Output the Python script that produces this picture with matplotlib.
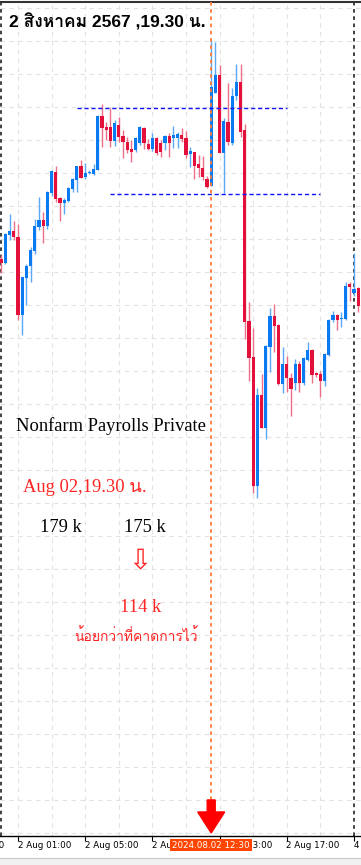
import matplotlib
matplotlib.use("Agg")
import matplotlib.pyplot as plt
from matplotlib import font_manager
from matplotlib.ft2font import FT2Font
from matplotlib.patches import Polygon, Rectangle
from matplotlib.transforms import blended_transform_factory
import numpy as np

# M15 candles, 2 Aug 2024 00:00 (server GMT) onwards
opens = [148.41, 148.37, 148.65, 148.69, 148.63, 147.85, 148.22, 148.34, 148.49, 148.73,
         148.80, 148.74, 149.07, 149.28, 149.02, 148.97, 148.99, 149.11, 149.20, 149.34,
         149.23, 149.27, 149.26, 149.30, 149.84, 149.73, 149.73, 149.59, 149.75, 149.64,
         149.58, 149.51, 149.50, 149.57, 149.72, 149.56, 149.51, 149.62, 149.57, 149.57,
         149.64, 149.62, 149.62, 149.65, 149.62, 149.46, 149.48, 149.36, 149.32, 149.21,
         149.14, 150.07, 150.25, 149.47, 149.78, 149.57, 150.04, 150.18, 149.70, 147.79,
         147.43, 146.14, 147.05, 146.72, 147.53, 147.84, 147.75, 147.16, 147.36, 147.22,
         147.17, 147.36, 147.17, 147.40, 147.50, 147.27, 147.26, 147.19, 147.45, 147.80,
         147.85, 147.81, 147.81, 148.16, 148.07, 148.12]
highs = [148.45, 148.67, 148.86, 148.79, 148.76, 148.23, 148.36, 148.53, 148.81, 149.03,
         148.88, 149.09, 149.30, 149.34, 149.03, 149.02, 149.13, 149.22, 149.34, 149.40,
         149.37, 149.30, 149.36, 149.85, 149.96, 149.78, 149.92, 149.80, 149.83, 149.70,
         149.63, 149.60, 149.63, 149.74, 149.73, 149.61, 149.67, 149.63, 149.60, 149.65,
         149.67, 149.74, 149.68, 149.72, 149.69, 149.53, 149.48, 149.45, 149.44, 149.24,
         150.60, 150.58, 150.35, 149.82, 150.17, 150.12, 150.36, 150.36, 149.76, 147.98,
         147.72, 147.12, 147.26, 147.55, 147.92, 147.96, 147.76, 147.53, 147.44, 147.27,
         147.41, 147.39, 147.43, 147.58, 147.51, 147.28, 147.29, 147.47, 147.81, 147.89,
         147.86, 147.88, 148.18, 148.18, 148.47, 148.13]
lows = [148.27, 148.36, 148.60, 148.60, 147.80, 147.65, 147.95, 148.18, 148.46, 148.70,
        148.57, 148.71, 149.04, 148.98, 148.79, 148.86, 148.98, 149.08, 149.08, 149.22,
        149.21, 149.26, 149.25, 149.30, 149.53, 149.60, 149.53, 149.54, 149.58, 149.42,
        149.47, 149.38, 149.48, 149.55, 149.51, 149.50, 149.49, 149.45, 149.43, 149.50,
        149.43, 149.52, 149.52, 149.58, 149.42, 149.33, 149.21, 149.23, 149.20, 149.12,
        149.14, 150.07, 149.47, 149.07, 149.55, 149.55, 150.00, 149.63, 147.61, 147.19,
        146.07, 146.02, 146.72, 146.61, 147.28, 147.48, 147.15, 147.07, 147.08, 146.84,
        147.10, 147.08, 147.15, 147.39, 147.17, 147.23, 147.03, 147.14, 147.44, 147.78,
        147.70, 147.73, 147.80, 147.99, 148.04, 147.88]
closes = [148.37, 148.66, 148.69, 148.63, 147.85, 148.23, 148.34, 148.50, 148.74, 148.80,
          148.74, 149.08, 149.29, 149.01, 148.97, 149.00, 149.12, 149.21, 149.34, 149.22,
          149.27, 149.28, 149.31, 149.84, 149.72, 149.70, 149.59, 149.77, 149.63, 149.58,
          149.50, 149.48, 149.62, 149.73, 149.57, 149.51, 149.62, 149.47, 149.48, 149.64,
          149.57, 149.65, 149.66, 149.61, 149.45, 149.49, 149.34, 149.32, 149.23, 149.13,
          150.13, 150.25, 149.47, 149.79, 149.58, 150.04, 150.18, 149.68, 147.78, 147.42,
          146.14, 147.05, 146.72, 147.54, 147.84, 147.74, 147.16, 147.36, 147.22, 147.11,
          147.36, 147.17, 147.42, 147.50, 147.25, 147.25, 147.19, 147.46, 147.80, 147.85,
          147.80, 147.82, 148.14, 148.13, 148.11, 147.94]

tick_idx = [-12, 4, 20, 36, 52, 68, 84]
tick_labels = ["1 Aug 21:00", "2 Aug 01:00", "2 Aug 05:00", "2 Aug 09:00",
               "2 Aug 13:00", "2 Aug 17:00", "4 Aug 21:00"]
event_idx = 50
event_label = "2024.08.02 12:30"
separators = [0, 84]
level_hi, level_hi_from, level_hi_to = 149.92, 18, 68
level_lo, level_lo_from, level_lo_to = 149.06, 26, 76


def thai_fonts():
    found = []
    for f in font_manager.fontManager.ttflist:
        if f.name in found:
            continue
        try:
            cmap = FT2Font(f.fname).get_charmap()
        except Exception:
            continue
        if 0x0E2A in cmap:
            found.append(f.name)
    return found


thai = thai_fonts()
sans = ["Liberation Sans"] + thai
serif = ["Liberation Serif"] + thai

W, H = 361, 865
fig = plt.figure(figsize=(W / 100, H / 100), dpi=100)
ax = fig.add_axes([0, (H - 836) / H, 1, (836 - 1.5) / H])
ax.set_xlim(-1.2 / 4.2, (W - 1.2) / 4.2)
ax.set_ylim(151 - 836 / 100, 151 - 1.5 / 100)

# grid
for gy in np.arange(150.92, 142.6, -0.33):
    ax.axhline(gy, color="#e2e2e2", lw=0.8, ls=(0, (4, 4)), zorder=0)
for gx in range(4, 84, 8):
    ax.axvline(gx, color="#e2e2e2", lw=0.8, ls=(0, (4, 4)), zorder=0)
for sx in separators:
    ax.axvline(sx, color="#333333", lw=1.3, ls=(0, (2, 2)), zorder=1)

# candles
up_body, up_wick = "#0a7af2", "#5aa8f6"
dn_body, dn_wick = "#e4103c", "#ec6f87"
idx = np.arange(len(opens))
for i, o, h, l, c in zip(idx, opens, highs, lows, closes):
    up = c >= o
    ax.plot([i, i], [l, h], color=up_wick if up else dn_wick, lw=1.0, zorder=2,
            solid_capstyle="butt")
    lo, hi = min(o, c), max(o, c)
    if hi - lo < 0.01:
        hi = lo + 0.01
    ax.bar(i, hi - lo, bottom=lo, width=0.75, color=up_body if up else dn_body,
           linewidth=0, zorder=3)

# levels
ax.hlines(level_hi, level_hi_from, level_hi_to, color="#1010ff", lw=1.0,
          ls=(0, (3, 2)), zorder=4)
ax.hlines(level_lo, level_lo_from, level_lo_to, color="#1010ff", lw=1.0,
          ls=(0, (3, 2)), zorder=4)

# event line + arrow
ax.axvline(event_idx, ymin=0.043, ymax=1, color="#ff7a3a", lw=1.3,
           ls=(0, (2, 2)), zorder=4)
bt = blended_transform_factory(ax.transData, ax.transAxes)
sw, hw = 4 / 4.2, 13.5 / 4.2
arrow = Polygon([(event_idx - sw, 0.0432), (event_idx + sw, 0.0432),
                 (event_idx + sw, 0.0288), (event_idx + hw, 0.0288),
                 (event_idx, 0.0036), (event_idx - hw, 0.0288),
                 (event_idx - sw, 0.0288)],
                closed=True, transform=bt, color="#ff0000", zorder=6)
ax.add_patch(arrow)

# axes frame
for s in ["left", "right"]:
    ax.spines[s].set_visible(False)
ax.spines["top"].set_color("#333333")
ax.spines["top"].set_linewidth(1.5)
ax.spines["bottom"].set_color("#000000")
ax.spines["bottom"].set_linewidth(1.0)
ax.set_yticks([])
ax.set_xticks([t for t in tick_idx if t >= 0])
ax.set_xticklabels([])
ax.tick_params(axis="x", length=3.5, width=0.8, color="black", direction="out")

lab_y = -0.0108
for t, lab in zip(tick_idx, tick_labels):
    ax.text(t - 0.3 / 4.2, lab_y, lab, transform=bt, ha="left", va="center",
            fontsize=6.3, family="DejaVu Sans", color="black", clip_on=False)
ax.text(event_idx, lab_y, event_label, transform=bt, ha="center", va="center",
        fontsize=6.3, family="DejaVu Sans", color="white", clip_on=False, zorder=10,
        bbox=dict(boxstyle="square,pad=0.22", fc="#ff4500", ec="none"))

# bottom strip
fig.patches.append(Rectangle((0, 0), 1, (H - 858) / H, transform=fig.transFigure,
                             fc="#f0f0f0", ec="none"))
fig.add_artist(plt.Line2D([0, 1], [(H - 858) / H] * 2, transform=fig.transFigure,
                          color="#c8c8c8", lw=0.8))


def px(x, y):
    return x / W, 1 - y / H


red = "#ff2424"
fig.text(*px(9, 22), "2 สิงหาคม 2567 ,19.30 น.", ha="left", va="center",
         fontsize=12.5, fontweight="bold", family=sans, color="black")
fig.text(*px(16, 426), "Nonfarm Payrolls Private", ha="left", va="center",
         fontsize=13.3, family=serif, color="black")
fig.text(*px(23, 487), "Aug 02,19.30 น.", ha="left", va="center",
         fontsize=13.3, family=serif, color=red)
fig.text(*px(40, 527), "179 k", ha="left", va="center", fontsize=13.3,
         family=serif, color="black")
fig.text(*px(124, 527), "175 k", ha="left", va="center", fontsize=13.3,
         family=serif, color="black")
fig.text(*px(140, 561), "\u21e9", ha="center", va="center", fontsize=20,
         family="DejaVu Sans", color=red)
fig.text(*px(141, 608), "114 k", ha="center", va="center", fontsize=13.3,
         family=serif, color=red)
fig.text(*px(136, 636), "น้อยกว่าที่คาดการไว้", ha="center", va="center",
         fontsize=10, family=serif, color=red)

fig.savefig("out.png", dpi=100)
